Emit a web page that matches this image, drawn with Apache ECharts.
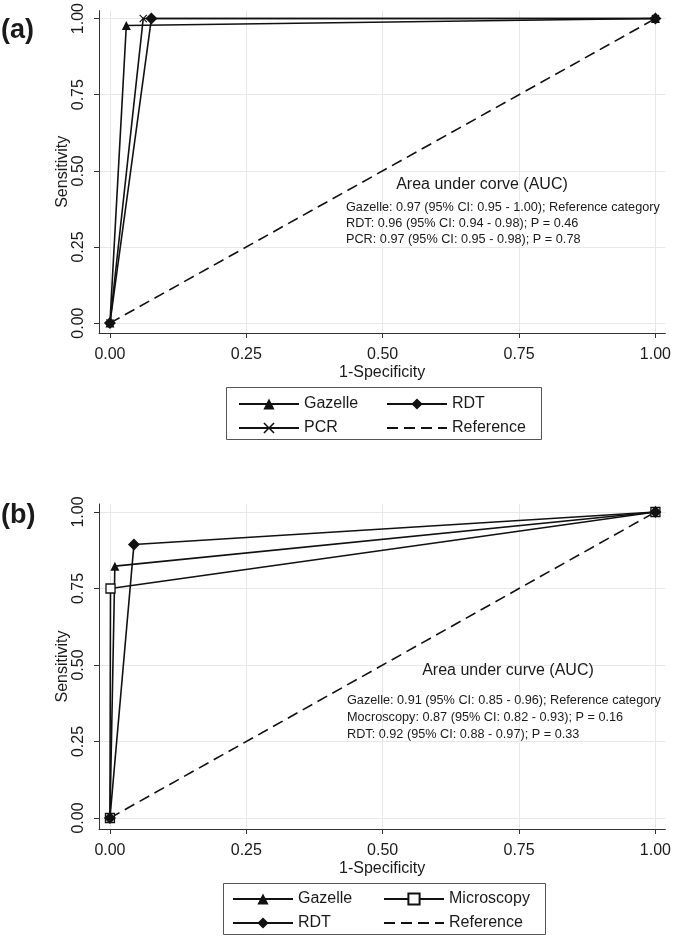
<!DOCTYPE html>
<html>
<head>
<meta charset="utf-8">
<script src="https://cdn.jsdelivr.net/npm/echarts@6/dist/echarts.min.js"></script>
<style>html,body{margin:0;padding:0;background:#fff}#c{width:674px;height:936px}</style>
</head>
<body>
<div id="c"></div>
<script>
// ---- data ----
const tickValues = [0, 0.25, 0.5, 0.75, 1];

// Panel (a)
const aGazelleX = [0, 0.030, 1];
const aGazelleY = [0, 0.977, 1];
const aRdtX = [0, 0.076, 1];
const aRdtY = [0, 1.0, 1];
const aPcrX = [0, 0.061, 1];
const aPcrY = [0, 1.0, 1];
const refX = [0, 1];
const refY = [0, 1];

// Panel (b)
const bGazelleX = [0, 0.009, 1];
const bGazelleY = [0, 0.823, 1];
const bMicroX = [0, 0.001, 1];
const bMicroY = [0, 0.750, 1];
const bRdtX = [0, 0.044, 1];
const bRdtY = [0, 0.894, 1];

const aucTitleA = 'Area under corve (AUC)';
const aucLinesA = [
  'Gazelle: 0.97 (95% CI: 0.95 - 1.00); Reference category',
  'RDT: 0.96 (95% CI: 0.94 - 0.98); P = 0.46',
  'PCR: 0.97 (95% CI: 0.95 - 0.98); P = 0.78'
];
const aucTitleB = 'Area under curve (AUC)';
const aucLinesB = [
  'Gazelle: 0.91 (95% CI: 0.85 - 0.96); Reference category',
  'Mocroscopy: 0.87 (95% CI: 0.82 - 0.93); P = 0.16',
  'RDT: 0.92 (95% CI: 0.88 - 0.97); P = 0.33'
];

// ---- styling ----
const FONT = "'Liberation Sans', Arial, sans-serif";
const INK = '#1a1a1a';
const LINE = '#111';
const xMin = -11 / 548, xMax = 558 / 548;
const yRangeA = [-10 / 307, 315 / 307];
const yRangeB = [-11 / 306, 314 / 306];
const xSymbol = 'path://M0,1L1,0L5,4L9,0L10,1L6,5L10,9L9,10L5,6L1,10L0,9L4,5Z';

function zip(xs, ys) { return xs.map((x, i) => [x, ys[i]]); }
const fmt = v => Number(v).toFixed(2);

function mkX(i) {
  return {
    type: 'value', gridIndex: i, min: xMin, max: xMax,
    axisLine: { show: true, onZero: false, lineStyle: { color: '#333', width: 1 } },
    axisTick: { show: true, length: 5, customValues: tickValues, lineStyle: { color: '#333' } },
    axisLabel: { customValues: tickValues, formatter: fmt, fontSize: 16, color: INK, margin: 14, fontFamily: FONT },
    splitLine: { show: true, lineStyle: { color: '#e8e8e8', width: 1 } },
    name: '1-Specificity', nameLocation: 'middle', nameGap: 32, nameMoveOverlap: false,
    nameTextStyle: { fontSize: 16, color: INK, fontFamily: FONT }
  };
}
function mkY(i, r) {
  return {
    type: 'value', gridIndex: i, min: r[0], max: r[1],
    axisLine: { show: true, onZero: false, lineStyle: { color: '#333', width: 1 } },
    axisTick: { show: true, length: 5, customValues: tickValues, lineStyle: { color: '#333' } },
    axisLabel: { customValues: tickValues, formatter: fmt, fontSize: 16, color: INK, margin: 12, rotate: 90, fontFamily: FONT },
    splitLine: { show: true, lineStyle: { color: '#e8e8e8', width: 1 } },
    name: 'Sensitivity', nameLocation: 'middle', nameGap: 28, nameMoveOverlap: false,
    nameTextStyle: { fontSize: 16, color: INK, fontFamily: FONT }
  };
}
function curve(name, i, xs, ys, symbol, size, extraItem) {
  return {
    type: 'line', name: name, xAxisIndex: i, yAxisIndex: i,
    data: zip(xs, ys), symbol: symbol, symbolSize: size,
    lineStyle: { color: LINE, width: 1.6 },
    itemStyle: Object.assign({ color: LINE }, extraItem || {}),
    z: 3
  };
}
function refLine(i) {
  return {
    type: 'line', name: 'Reference', xAxisIndex: i, yAxisIndex: i,
    data: zip(refX, refY), symbol: 'none',
    lineStyle: { color: LINE, width: 1.6, type: [11, 6] },
    itemStyle: { color: LINE }, z: 2
  };
}
function legendCol(data, left, top) {
  return {
    data: data.map(n => n === 'Reference' ? { name: n, itemStyle: { opacity: 0 } } : n),
    orient: 'vertical', left: left, top: top, padding: 0,
    itemWidth: 60, itemHeight: 14, itemGap: 8, selectedMode: false,
    textStyle: { fontSize: 16, color: INK, fontFamily: FONT }
  };
}
function textEl(t, x, y, size, align, weight) {
  return { type: 'text', x: x, y: y, z: 10,
    style: { text: t, fill: INK, font: (weight || 'normal') + ' ' + size + 'px ' + FONT,
      textAlign: align, textVerticalAlign: 'middle' } };
}

const graphic = [
  textEl('(a)', 1, 31, 27, 'left', 'bold'),
  textEl('(b)', 1, 516, 27, 'left', 'bold'),
  textEl(aucTitleA, 482, 185, 16, 'center'),
  textEl(aucTitleB, 508, 671, 16, 'center'),
  { type: 'rect', shape: { x: 226.5, y: 387.5, width: 315, height: 52 }, style: { fill: 'none', stroke: '#555', lineWidth: 1 } },
  { type: 'rect', shape: { x: 223.5, y: 883.5, width: 322, height: 51 }, style: { fill: 'none', stroke: '#555', lineWidth: 1 } }
];
aucLinesA.forEach((t, k) => graphic.push(textEl(t, 346, 207 + 16 * k, 12.7, 'left')));
aucLinesB.forEach((t, k) => graphic.push(textEl(t, 347, 700 + 17 * k, 12.7, 'left')));

const option = {
  animation: false,
  backgroundColor: '#fff',
  grid: [
    { left: 99, top: 8, width: 569, height: 325 },
    { left: 99, top: 504, width: 569, height: 325 }
  ],
  xAxis: [mkX(0), mkX(1)],
  yAxis: [mkY(0, yRangeA), mkY(1, yRangeB)],
  legend: [
    legendCol(['Gazelle', 'PCR'], 238, 396),
    legendCol(['RDT', 'Reference'], 386, 396),
    legendCol(['Gazelle', 'RDT'], 232, 891),
    legendCol(['Microscopy', 'Reference'], 383, 891)
  ],
  series: [
    refLine(0),
    curve('Gazelle', 0, aGazelleX, aGazelleY, 'triangle', 9),
    curve('RDT', 0, aRdtX, aRdtY, 'diamond', 12),
    curve('PCR', 0, aPcrX, aPcrY, xSymbol, 8),
    refLine(1),
    curve('Gazelle', 1, bGazelleX, bGazelleY, 'triangle', 9),
    curve('Microscopy', 1, bMicroX, bMicroY, 'rect', 9, { color: '#fff', borderColor: LINE, borderWidth: 1.3 }),
    curve('RDT', 1, bRdtX, bRdtY, 'diamond', 12)
  ],
  graphic: graphic
};
const chart = echarts.init(document.getElementById('c'), null, { renderer: 'canvas' });
chart.setOption(option);
</script>
</body>
</html>
